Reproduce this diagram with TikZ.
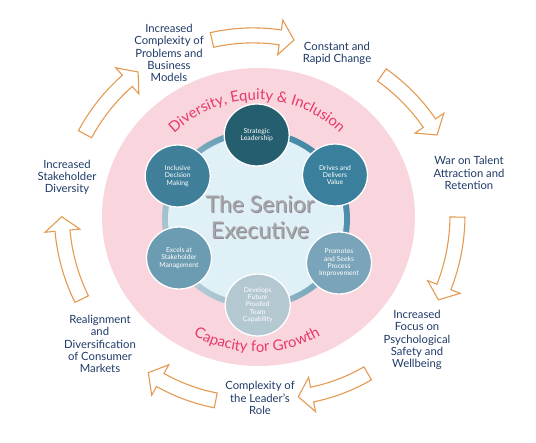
\documentclass[tikz,border=0pt]{standalone}
\usepackage{fontspec}
\setmainfont{Lato}
\usetikzlibrary{decorations.text,shapes.geometric}
\definecolor{pinkbg}{HTML}{F9D5DE}
\definecolor{pinktxt}{HTML}{E8386B}
\definecolor{navy}{HTML}{1F3A68}
\definecolor{arrorange}{HTML}{E59A52}
\definecolor{diskblue}{HTML}{DFF0F7}
\definecolor{ringdark}{HTML}{3F88A5}
\definecolor{ringlight}{HTML}{B3CAD4}
\definecolor{cA}{HTML}{255E6F}
\definecolor{cB}{HTML}{3A809C}
\definecolor{cC}{HTML}{7AA4B9}
\definecolor{cD}{HTML}{B4C8D2}
\definecolor{cE}{HTML}{6C9CB1}
\definecolor{cF}{HTML}{3F7F9A}
\definecolor{titlegrey}{HTML}{A7A6AB}
\definecolor{titleshadow}{HTML}{8C8B92}
\newcommand\curvefont{\fontsize{14.8}{14.8}\selectfont}
% block arrow along an arc: centre x, centre y, radius, start angle, end angle
\newcommand\BArrow[5]{%
  \pgfmathsetmacro\BAab{#5-14/#3*57.2958}%
  \pgfmathsetmacro\BAro{#3+7.5}%
  \pgfmathsetmacro\BAri{#3-7.5}%
  \pgfmathsetmacro\BAho{#3+17.5}%
  \pgfmathsetmacro\BAhi{#3-17.5}%
  \draw[blockarrow, shift={(#1,#2)}] (#4:\BAro)
    arc[start angle=#4, end angle=\BAab, radius=\BAro]
    -- (\BAab:\BAho) -- (#5:#3) -- (\BAab:\BAhi) -- (\BAab:\BAri)
    arc[start angle=\BAab, end angle=#4, radius=\BAri] -- cycle;}
\tikzset{
  blockarrow/.style={draw=arrorange, fill=white, line width=1.1pt, line join=miter},
  bub/.style={shape=ellipse, minimum width=65pt, minimum height=62pt, inner sep=0pt,
    draw=white, line width=1.3pt, text=white, align=center,
    font=\fontsize{6.8}{7.3}\selectfont},
  lab/.style={text=navy, align=center, inner sep=0pt,
    font=\fontsize{11.3}{12.2}\selectfont},
  titletxt/.style={align=center, inner sep=0pt,
    font=\fontsize{23}{26}\selectfont}
}
\begin{document}
\begin{tikzpicture}[x=1pt,y=-1pt]
\useasboundingbox (0,0) rectangle (536,443);
% pink disc
\fill[pinkbg] (258.5,217) ellipse [x radius=156.5, y radius=149];
% ring and inner disc
\shade[top color=ringdark, bottom color=ringlight, shading angle=-50]
  (256,219) ellipse [x radius=94, y radius=89.5];
\fill[diskblue] (256,219) ellipse [x radius=88, y radius=83.5];
% title
\node[titletxt, text=titleshadow] at (261,218) {The Senior\\Executive};
\node[titletxt, text=titlegrey] (se) at (260,217) {The Senior\\Executive};
% competency circles
\node[bub, fill=cA] (sl) at (256.7,135) {Strategic\\Leadership};
\node[bub, fill=cB] (dv) at (335,175) {Drives and\\Delivers\\Value};
\node[bub, fill=cC] (pi) at (339,263) {Promotes\\and Seeks\\Process\\Improvement};
\node[bub, fill=cD] (df) at (257.7,305) {Develops\\Future\\Proofed\\Team\\Capability};
\node[bub, fill=cE] (sm) at (179,258) {Excels at\\Stakeholder\\Management};
\node[bub, fill=cF] (id) at (177.7,176) {Inclusive\\Decision\\Making};
% curved texts
\path[decorate, decoration={text along path, text align=center, text color=pinktxt,
  text={|\curvefont|Diversity, Equity {\&} Inclusion}}]
  (257,219) ++(-165:119) arc[start angle=-165, end angle=-15, radius=119];
\path[decorate, decoration={text along path, text align=center, text color=pinktxt,
  text={|\curvefont|Capacity for Growth}}]
  (257,219) ++(165:133) arc[start angle=165, end angle=15, radius=133];
% block arrows
\BArrow{253}{222}{186.6}{-102.7}{-77.3}
\BArrow{268.9}{234}{195.1}{-54.6}{-30.5}
\BArrow{259.7}{215}{197.8}{0.6}{25.4}
\BArrow{275.8}{216.1}{182.1}{59.7}{82.9}
\BArrow{251}{219}{184.8}{101}{123.75}
\BArrow{256}{213.3}{194.3}{153.8}{179}
\BArrow{255.1}{225.6}{193.1}{-151.75}{-127.3}
% outer labels
\node[lab] (l1) at (169,53) {Increased\\Complexity of\\Problems and\\Business\\Models};
\node[lab] (l2) at (337,53) {Constant and\\Rapid Change};
\node[lab] (l3) at (469,173) {War on Talent\\Attraction and\\Retention};
\node[lab] (l4) at (417,340) {Increased\\Focus on\\Psychological\\Safety and\\Wellbeing};
\node[lab] (l5) at (260,398) {Complexity of\\the Leader’s\\Role};
\node[lab] (l6) at (100,344) {Realignment\\and\\Diversification\\of Consumer\\Markets};
\node[lab] (l7) at (67,177.5) {Increased\\Stakeholder\\Diversity};
\end{tikzpicture}
\end{document}
